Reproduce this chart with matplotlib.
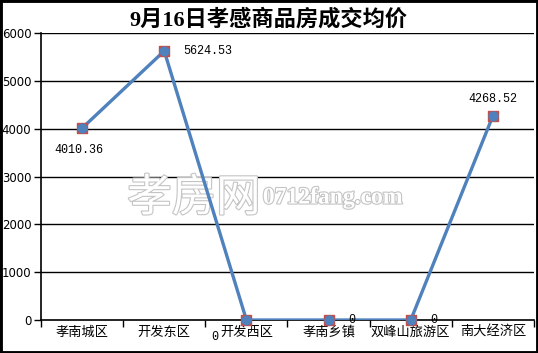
import matplotlib.pyplot as plt
import matplotlib.patheffects as pe
from matplotlib.patches import Rectangle

plt.rcParams['font.family'] = ['DejaVu Sans', 'Noto Sans CJK SC']

districts = ["孝南城区", "开发东区", "开发西区", "孝南乡镇", "双峰山旅游区", "南大经济区"]
prices = [4010.36, 5624.53, 0, 0, 0, 4268.52]
price_labels = ["4010.36", "5624.53", "0", "0", "0", "4268.52"]
label_offsets = [(-2, -16), (14, 0), (-20, -12), (14, 0), (14, 0), (0, 12)]
y_ticks = [0, 1000, 2000, 3000, 4000, 5000, 6000]

W, H = 538, 353
fig = plt.figure(figsize=(W / 100, H / 100), dpi=100)
ax = fig.add_axes([41 / W, 1 - 320 / H, (534 - 41) / W, (320 - 33) / H])

x = list(range(len(districts)))
ax.set_xlim(-0.5, len(districts) - 0.5)
ax.set_ylim(0, 6000)

# gridlines
for v in y_ticks[1:]:
    ax.axhline(v, color="black", lw=1.0, zorder=1)

# watermark (outlined text)
outline = [pe.withStroke(linewidth=1.6, foreground="#c4c4c4")]
ax.text(0.175, 0.425, "孝房网", transform=ax.transAxes, fontsize=32,
        family=['Noto Sans CJK SC'], color="white", va="center", ha="left",
        path_effects=outline, zorder=2)
ax.text(0.45, 0.425, "0712fang.com", transform=ax.transAxes, fontsize=17,
        family=['Liberation Serif'], fontweight="bold", color="white",
        va="center", ha="left", path_effects=outline, zorder=2)

ax.plot(x, prices, color="#4f81bd", lw=2.4, zorder=3, solid_capstyle="round")
ax.scatter(x, prices, marker="s", s=55, color="#c0504d", zorder=4, clip_on=False)
ax.scatter(x, prices, marker="o", s=40, color="#4f81bd", zorder=5, clip_on=False)

for xi, yi, lab, (dx, dy) in zip(x, prices, price_labels, label_offsets):
    ha = "left" if dx > 2 else ("right" if dx < -2 else "center")
    ax.annotate(lab, (xi, yi), xytext=(dx, dy), textcoords="offset points",
                ha=ha, va="center", fontsize=8.5,
                family=['Liberation Mono', 'DejaVu Sans'], zorder=6,
                annotation_clip=False)

ax.set_yticks(y_ticks)
ax.set_yticklabels([str(v) for v in y_ticks], fontsize=8.5)
ax.set_xticks([i - 0.5 for i in range(len(districts) + 1)])
ax.set_xticklabels([])
ax.set_xticks(x, minor=True)
ax.set_xticklabels(districts, minor=True, fontsize=9.5)
ax.tick_params(axis="x", which="major", length=5, direction="out", width=1)
ax.tick_params(axis="x", which="minor", length=0, pad=4)
ax.tick_params(axis="y", length=5, width=1, pad=2)

for s in ["top", "right"]:
    ax.spines[s].set_visible(False)
ax.spines["left"].set_linewidth(1.2)
ax.spines["bottom"].set_linewidth(1.2)

fig.text(268 / W, 1 - 20 / H, "9月16日孝感商品房成交均价", ha="center", va="center",
         fontsize=16, fontweight="bold",
         family=['Liberation Serif', 'Noto Sans CJK SC'])

fig.patches.append(Rectangle((0, 0), 1, 1, transform=fig.transFigure,
                             fill=False, edgecolor="black", lw=3.5))

fig.savefig("out.png", dpi=100)
